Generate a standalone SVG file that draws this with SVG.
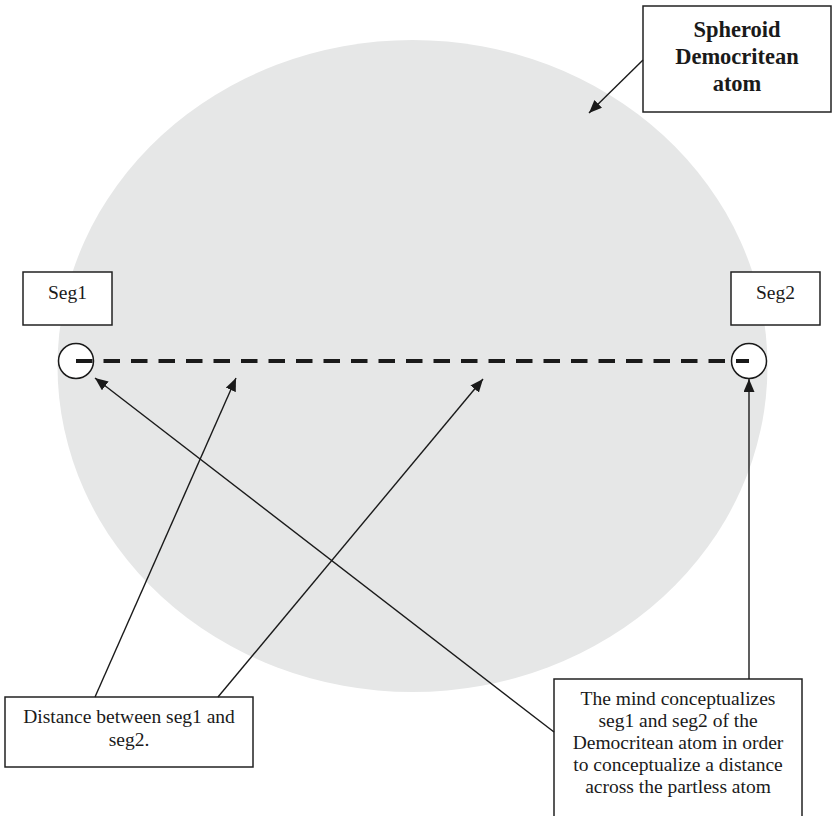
<svg xmlns="http://www.w3.org/2000/svg" width="832" height="816" viewBox="0 0 832 816">
  <style>
    .box { fill: #ffffff; stroke: #222222; stroke-width: 1.5; }
    .txt { font-family: "Liberation Serif", "Times New Roman", serif; font-size: 19.5px; fill: #1a1a1a; text-anchor: middle; }
    .title { font-family: "Liberation Serif", "Times New Roman", serif; font-size: 22.5px; font-weight: bold; fill: #1a1a1a; text-anchor: middle; }
    .conn { stroke: #1a1a1a; stroke-width: 1.4; fill: none; marker-end: url(#arrow); }
    .seg { fill: #ffffff; stroke: #1a1a1a; stroke-width: 1.5; }
  </style>
  <defs>
    <marker id="arrow" markerUnits="userSpaceOnUse" markerWidth="13" markerHeight="11" refX="13" refY="5.5" orient="auto">
      <path d="M0,0 L13,5.5 L0,11 z" fill="#1a1a1a"/>
    </marker>
  </defs>
  <rect width="832" height="816" fill="#ffffff"/>

  <g id="atom">
    <ellipse cx="412.5" cy="366" rx="355" ry="326" fill="#e6e7e7"/>
  </g>

  <g id="title-node">
    <rect class="box" x="643" y="6" width="188" height="106"/>
    <text class="title" x="737" y="37">Spheroid</text>
    <text class="title" x="737" y="64">Democritean</text>
    <text class="title" x="737" y="91">atom</text>
  </g>

  <g id="seg1-label">
    <rect class="box" x="23" y="272" width="89" height="53"/>
    <text class="txt" x="67.5" y="299">Seg1</text>
  </g>

  <g id="seg2-label">
    <rect class="box" x="731" y="272" width="89" height="53"/>
    <text class="txt" x="775.5" y="299">Seg2</text>
  </g>

  <g id="seg1">
    <circle class="seg" cx="76" cy="361" r="17.5"/>
  </g>
  <g id="seg2">
    <circle class="seg" cx="749" cy="361" r="17.5"/>
  </g>

  <g id="distance-line">
    <line x1="76" y1="361" x2="749" y2="361" stroke="#1a1a1a" stroke-width="4" stroke-dasharray="16.5 11"/>
  </g>

  <g id="distance-note">
    <rect class="box" x="5" y="697" width="248" height="70"/>
    <text class="txt" x="129" y="723">Distance between seg1 and</text>
    <text class="txt" x="129" y="746">seg2.</text>
  </g>

  <g id="mind-note">
    <rect class="box" x="554" y="679" width="248" height="140"/>
    <text class="txt" x="678" y="705">The mind conceptualizes</text>
    <text class="txt" x="678" y="727">seg1 and seg2 of the</text>
    <text class="txt" x="678" y="749">Democritean atom in order</text>
    <text class="txt" x="678" y="771">to conceptualize a distance</text>
    <text class="txt" x="678" y="793">across the partless atom</text>
  </g>

  <g id="connectors">
    <line class="conn" x1="643" y1="60" x2="589" y2="113"/>
    <line class="conn" x1="95" y1="697" x2="236" y2="378"/>
    <line class="conn" x1="218" y1="697" x2="483" y2="379"/>
    <line class="conn" x1="554" y1="732" x2="95" y2="378"/>
    <line class="conn" x1="749" y1="679" x2="749" y2="379"/>
  </g>
</svg>
